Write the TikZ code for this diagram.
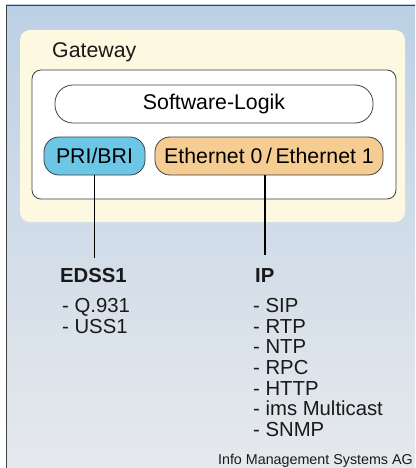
\documentclass[tikz,border=0pt]{standalone}
\usepackage{fontspec}
\setmainfont{Liberation Sans}
\usetikzlibrary{positioning}
\definecolor{bgtop}{HTML}{BCD0E5}
\definecolor{bgbot}{HTML}{E6E9EC}
\definecolor{gwfill}{HTML}{FCF9E0}
\definecolor{prifill}{HTML}{6CC6E6}
\definecolor{ethfill}{HTML}{F5CC92}
\definecolor{rim}{HTML}{404040}
\newcommand{\mainsize}{\fontsize{21.3}{24}\selectfont}
\newcommand{\listsize}{\fontsize{20.3}{20.7}\selectfont}

\begin{document}
\begin{tikzpicture}[x=1pt,y=-1pt,
    pill/.style={draw=rim,line width=0.8pt,inner sep=0pt,minimum height=38pt,font=\mainsize},
    link/.style={draw=black,line width=1.8pt},
    plain/.style={inner sep=0pt,text=black!90}]
  \useasboundingbox (0,0) rectangle (415,468);

  % background and frame
  \fill[white] (0,0) rectangle (415,468);
  \fill[top color=bgtop,bottom color=bgbot] (6,5) rectangle (415,468);
  \draw[rim,line width=0.8pt] (6,468) -- (6,5) -- (415,5);

  % gateway
  \fill[gwfill,rounded corners=10pt] (20,30) rectangle (405,222);
  \node[plain,anchor=base west,font=\mainsize] (gw) at (52,58) {Gateway};
  \draw[rim,fill=white,line width=0.8pt,rounded corners=9pt] (32,70) rectangle (396,199);

  \node[pill,fill=white,rounded corners=18pt,minimum width=318pt] (soft) at (214,104) {Software-Logik};
  \node[pill,fill=prifill,rounded corners=15pt,minimum width=101pt] (pri) at (94.5,156) {PRI/BRI};
  \node[pill,fill=ethfill,rounded corners=15pt,minimum width=228pt] (eth) at (269,156) {Ethernet 0\,/\,Ethernet 1};

  % protocols
  \node[plain,anchor=base west,font=\fontsize{20.3}{22}\selectfont\bfseries] (edss) at (60,282) {EDSS1};
  \node[plain,anchor=base west,font=\fontsize{20.3}{22}\selectfont\bfseries] (ip) at (255,282) {IP};
  \node[plain,anchor=north west,align=left,font=\listsize] (edsslist) at (62,298.5)
       {- Q.931\\- USS1};
  \node[plain,anchor=north west,align=left,font=\listsize] (iplist) at (253,298)
       {- SIP\\- RTP\\- NTP\\- RPC\\- HTTP\\- ims Multicast\\- SNMP};

  \draw[link] (pri.south) -- ([yshift=10pt]pri.south |- edss.north);
  \draw[link] (ip.north |- eth.south) -- ([yshift=13pt]ip.north);

  \node[plain,anchor=base east,font=\fontsize{14.3}{17}\selectfont] (credit) at (413,464)
       {Info Management Systems AG};
\end{tikzpicture}
\end{document}
